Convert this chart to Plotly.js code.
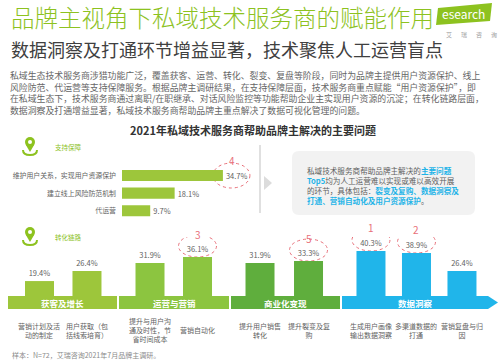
<!DOCTYPE html>
<html><head><meta charset="utf-8">
<script src="https://cdn.plot.ly/plotly-3.0.1.min.js"></script>
<style>html,body{margin:0;padding:0;background:#fff;}#chart{width:500px;height:363px;}</style>
</head><body><div id="chart"></div>
<script>
// ---------------- data ----------------
const mainTitle = '品牌主视角下私域技术服务商的赋能作用';
const subTitle = '数据洞察及打通环节增益显著，技术聚焦人工运营盲点';
const paragraphLines = [
  '私域生态技术服务商涉猎功能广泛，覆盖获客、运营、转化、裂变、复盘等阶段，同时为品牌主提供用户资源保护、线上',
  '风险防范、代运营等支持保障服务。根据品牌主调研结果，在支持保障层面，技术服务商重点赋能“用户资源保护”，即',
  '在私域生态下，技术服务商通过离职/在职继承、对话风险监控等功能帮助企业主实现用户资源的沉淀；在转化链路层面，',
  '数据洞察及打通增益显著，私域技术服务商帮助品牌主重点解决了数据可视化管理的问题。'
];
const chartTitle = '2021年私域技术服务商帮助品牌主解决的主要问题';
const sectionLabels = ['支持保障', '转化链路'];

const supportCats = ['维护用户关系，实现用户资源保护', '建立线上风险防范机制', '代运营'];
const supportVals = [34.7, 18.1, 9.7];

const groupNames = ['获客及增长', '运营与营销', '商业化变现', '数据洞察'];
const groupCats = [
  ['营销计划及活动的制定', '用户获取（包括线索培育）'],
  ['提升与用户沟通及时性，节省时间成本', '营销自动化'],
  ['提升用户销售转化', '提升裂变及复购'],
  ['生成用户画像输出数据洞察', '多渠道数据的打通', '营销复盘与归因']
];
const groupVals = [
  [19.4, 26.4],
  [31.9, 36.1],
  [31.9, 33.3],
  [40.3, 38.9, 26.4]
];
const boxText = '私域技术服务商帮助品牌主解决的<HL>主要问题</HL><br><HL>Top5</HL>均为人工运营难以实现或难以高效开展<br>的环节，具体包括：<HL>裂变及复购、数据洞察及</HL><br><HL>打通、营销自动化及用户资源保护</HL>。';
const footnote = '样本：N=72，艾瑞咨询2021年7月品牌主调研。';
const logoText = 'esearch';
const logoSub = '艾瑞咨询';

// ---------------- style / layout helpers ----------------
const W = 500, H = 363;
const fx = x => x / W, fy = y => 1 - y / H;
const P = (x, y) => fx(x) + ',' + fy(y);
const FONT = '"Noto Sans CJK SC", "Noto Sans", sans-serif';
const GREEN = '#8dc21f';
const TXT = '#5f5f5f';
const RED = '#e8707a';
const CYAN = '#1fb4e8';
const topBarColor = '#9dc63b';
const groupColors = ['#9dc63b', '#8cc540', '#5fae3d', '#20b5ea'];
const groupDomains = [[8, 117], [119, 229], [231, 340], [342, 495]];
const groupRanges = [[-0.663, 1.632], [-0.653, 1.663], [-0.598, 1.649], [-0.637, 2.726]];
const barPx = 29;

function wrap(s, n) {
  const out = [];
  for (let i = 0; i < s.length; i += n) out.push(s.slice(i, i + n));
  return out.join('<br>');
}

// ranks: top 5 over all values
const allItems = [];
supportVals.forEach((v, i) => allItems.push({v, kind: 'top', i}));
groupVals.forEach((arr, g) => arr.forEach((v, i) => allItems.push({v, kind: 'g', g, i})));
const sorted = allItems.slice().sort((a, b) => b.v - a.v).slice(0, 5);
sorted.forEach((it, r) => it.rank = r + 1);

const traces = [];
const shapes = [];
const ann = [];
function text(t, x, y, font, extra) {
  ann.push(Object.assign({xref: 'paper', yref: 'paper', x: fx(x), y: fy(y), text: t, showarrow: false,
    xanchor: 'left', yanchor: 'middle', font: Object.assign({family: FONT, size: 9, color: TXT}, font)}, extra || {}));
}

// ---------------- top horizontal bars ----------------
traces.push({
  type: 'bar', orientation: 'h', x: supportVals, y: supportCats, xaxis: 'x', yaxis: 'y',
  marker: {color: topBarColor}, width: 0.63,
  texttemplate: '%{x:.1f}%', textposition: 'outside', constraintext: 'none', cliponaxis: false,
  textfont: {family: FONT, size: 7.5, color: TXT}, hoverinfo: 'skip'
});

// ---------------- bottom grouped bars ----------------
const layout = {
  width: W, height: H, margin: {l: 0, r: 0, t: 0, b: 0},
  paper_bgcolor: '#ffffff', plot_bgcolor: 'rgba(0,0,0,0)', showlegend: false,
  font: {family: FONT, color: TXT},
  xaxis: {domain: [fx(122), fx(252)], range: [0, 44.7], visible: false, fixedrange: true},
  yaxis: {domain: [fy(219.5), fy(162.5)], type: 'category', categoryarray: supportCats, autorange: 'reversed',
    showgrid: false, zeroline: false, showline: false, ticks: '', ticklabelstandoff: 5,
    tickfont: {family: FONT, size: 6.9, color: TXT}, fixedrange: true}
};

groupVals.forEach((vals, g) => {
  const n = g + 2;
  const d = groupDomains[g], r = groupRanges[g];
  const pxPerUnit = (d[1] - d[0]) / (r[1] - r[0]);
  traces.push({
    type: 'bar', x: groupCats[g], y: vals, xaxis: 'x' + n, yaxis: 'y' + n,
    marker: {color: groupColors[g]}, width: barPx / pxPerUnit,
    texttemplate: '%{y:.1f}%', textposition: 'outside', constraintext: 'none', cliponaxis: false,
    textfont: {family: FONT, size: 7.5, color: TXT}, hoverinfo: 'skip'
  });
  layout['xaxis' + n] = {domain: [fx(d[0]), fx(d[1])], range: r, type: 'category', anchor: 'y' + n,
    showticklabels: false, showgrid: false, zeroline: false, showline: false, ticks: '', fixedrange: true};
  layout['yaxis' + n] = {domain: [fy(309), fy(237)], range: [0, 50], anchor: 'x' + n, visible: false, fixedrange: true};
  // band
  if (g < 3) {
    shapes.push({type: 'rect', xref: 'paper', yref: 'paper', x0: fx(d[0]), x1: fx(d[1]), y0: fy(309), y1: fy(296),
      fillcolor: groupColors[g], line: {width: 0}, layer: 'above'});
  } else {
    shapes.push({type: 'path', xref: 'paper', yref: 'paper', layer: 'above', fillcolor: groupColors[g], line: {width: 0},
      path: 'M' + P(d[0], 296) + ' L' + P(488, 296) + ' L' + P(498, 302.5) + ' L' + P(488, 309) + ' L' + P(d[0], 309) + ' Z'});
  }
  text('<b>' + groupNames[g] + '</b>', (d[0] + Math.min(d[1], 488)) / 2, 302.5, {size: 8.5, color: '#ffffff'}, {xanchor: 'center'});
  // category labels
  groupCats[g].forEach(c => {
    ann.push({xref: 'x' + n, yref: 'paper', x: c, y: fy(330), text: wrap(c, 6), showarrow: false,
      xanchor: 'center', yanchor: 'middle', align: 'center', font: {family: FONT, size: 7, color: TXT}});
  });
});

// rank circles and numbers
sorted.forEach(it => {
  const circ = {type: 'circle', layer: 'below', line: {color: RED, width: 1, dash: 'dot'}, fillcolor: 'rgba(0,0,0,0)'};
  if (it.kind === 'top') {
    shapes.push(Object.assign({}, circ, {xref: 'x', yref: 'y', xsizemode: 'pixel', ysizemode: 'pixel',
      xanchor: supportVals[it.i], yanchor: supportCats[it.i], x0: -10, x1: 27, y0: -12.5, y1: 12.5}));
    ann.push({xref: 'x', yref: 'y', x: supportVals[it.i], y: supportCats[it.i], xshift: 9, yshift: 15,
      text: String(it.rank), showarrow: false, font: {family: FONT, size: 10, color: RED}});
  } else {
    const n = it.g + 2;
    const c = groupCats[it.g][it.i];
    shapes.push(Object.assign({}, circ, {xref: 'x' + n, yref: 'y' + n, xsizemode: 'pixel', ysizemode: 'pixel',
      xanchor: c, yanchor: it.v, x0: -19, x1: 19, y0: 0, y1: 22}));
    ann.push({xref: 'x' + n, yref: 'y' + n, x: c, y: it.v, yshift: 23,
      text: String(it.rank), showarrow: false, font: {family: FONT, size: 10, color: RED}});
  }
});

// ---------------- decorations ----------------
// logo
shapes.push({type: 'path', xref: 'paper', yref: 'paper', layer: 'above', fillcolor: '#8dc21f', line: {width: 0},
  path: 'M' + P(438, 8) + ' L' + P(492, 3) + ' L' + P(490, 21) + ' L' + P(436, 25) + ' Z'});
text(logoText, 463, 14, {size: 12, color: '#ffffff'}, {xanchor: 'center'});
logoSub.split('').forEach((ch, i) => text(ch, 449 + i * 15, 34, {size: 6, color: '#a0a0a0'}, {xanchor: 'center'}));

// icons
[142, 232].forEach((cy, k) => {
  shapes.push({type: 'path', xref: 'paper', yref: 'paper', layer: 'above', fillcolor: 'rgba(0,0,0,0)',
    line: {color: GREEN, width: 2},
    path: 'M' + P(23, cy + 8) + ' Q' + P(23, cy + 13) + ' ' + P(30, cy + 13) + ' Q' + P(37, cy + 13) + ' ' + P(37, cy + 8)});
  shapes.push({type: 'circle', xref: 'paper', yref: 'paper', layer: 'above', fillcolor: GREEN, line: {width: 0},
    x0: fx(25), x1: fx(35), y0: fy(cy + 5), y1: fy(cy - 5)});
  shapes.push({type: 'path', xref: 'paper', yref: 'paper', layer: 'above', fillcolor: GREEN, line: {width: 0},
    path: 'M' + P(25.6, cy + 2.5) + ' L' + P(34.4, cy + 2.5) + ' L' + P(30, cy + 10) + ' Z'});
  shapes.push({type: 'circle', xref: 'paper', yref: 'paper', layer: 'above', fillcolor: '#ffffff', line: {width: 0},
    x0: fx(28), x1: fx(32), y0: fy(cy + 2), y1: fy(cy - 2)});
  text(sectionLabels[k], 53, cy + 5, {size: 6.5, color: GREEN});
});

// right side callout
shapes.push({type: 'line', xref: 'paper', yref: 'paper', layer: 'below', x0: fx(260), x1: fx(260), y0: fy(145), y1: fy(213),
  line: {color: '#d6d6d6', width: 1.5}});
shapes.push({type: 'path', xref: 'paper', yref: 'paper', layer: 'below', fillcolor: '#dcdcdc', line: {width: 0},
  path: 'M' + P(264, 176) + ' L' + P(272, 183) + ' L' + P(264, 190) + ' Z'});
(function () {
  const x0 = 292, x1 = 475, y0 = 151, y1 = 215, r = 7;
  shapes.push({type: 'path', xref: 'paper', yref: 'paper', layer: 'below', fillcolor: '#f2f2f2', line: {width: 0},
    path: 'M' + P(x0 + r, y0) + ' L' + P(x1 - r, y0) + ' Q' + P(x1, y0) + ' ' + P(x1, y0 + r) +
      ' L' + P(x1, y1 - r) + ' Q' + P(x1, y1) + ' ' + P(x1 - r, y1) +
      ' L' + P(x0 + r, y1) + ' Q' + P(x0, y1) + ' ' + P(x0, y1 - r) +
      ' L' + P(x0, y0 + r) + ' Q' + P(x0, y0) + ' ' + P(x0 + r, y0) + ' Z'});
})();
text(boxText.replace(/<HL>/g, '<span style="color:' + CYAN + '"><b>').replace(/<\/HL>/g, '</b></span>'),
  305, 185, {size: 7.6, color: TXT}, {align: 'left'});

// titles and paragraph
text(mainTitle, 9, 17, {size: 23.5, color: GREEN, weight: 300});
text(subTitle, 9, 49, {size: 18, color: '#404040'});
text(paragraphLines.join('<br>'), 10, 93.4, {size: 8.9, color: '#666666'}, {align: 'left', borderpad: 0, borderwidth: 0});
text('<b>' + chartTitle + '</b>', 253, 130, {size: 11, color: '#333333'}, {xanchor: 'center'});
text(footnote, 10, 355, {size: 7, color: '#8a8a8a'});

layout.shapes = shapes;
layout.annotations = ann;

Plotly.newPlot('chart', traces, layout, {staticPlot: true, displayModeBar: false});
</script>
</body></html>
